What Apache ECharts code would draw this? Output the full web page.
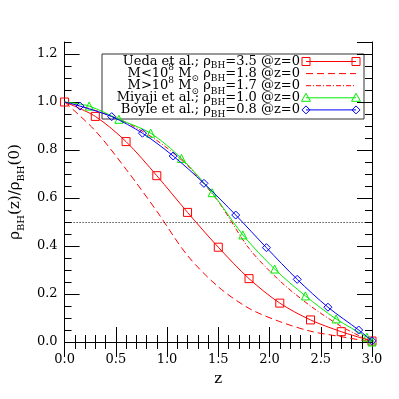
<!DOCTYPE html>
<html>
<head>
<meta charset="utf-8">
<script src="https://cdn.jsdelivr.net/npm/echarts@6/dist/echarts.min.js"></script>
<style>
html,body{margin:0;padding:0;background:#fff}
#chart{width:399px;height:399px}
</style>
</head>
<body>
<div id="chart"></div>
<script>
// values
const uedaX = [0, 0.3, 0.6, 0.9, 1.2, 1.5, 1.8, 2.1, 2.4, 2.7, 3.0];
const uedaY = [1.0, 0.94, 0.835, 0.693, 0.54, 0.395, 0.264, 0.162, 0.092, 0.043, 0.004];
const lowMX = [0, 0.3, 0.6, 0.9, 1.2, 1.5, 1.8, 2.1, 2.4, 2.7, 3.0];
const lowMY = [1.0, 0.88, 0.72, 0.545, 0.36, 0.23, 0.14, 0.085, 0.045, 0.022, 0.0];
const highMX = [0, 0.3, 0.6, 0.9, 1.2, 1.5, 1.8, 2.1, 2.4, 2.7, 3.0];
const highMY = [1.0, 0.965, 0.915, 0.84, 0.735, 0.585, 0.39, 0.255, 0.15, 0.065, 0.0];
const miyajiX = [0, 0.24, 0.53, 0.84, 1.14, 1.44, 1.74, 2.05, 2.35, 2.65, 2.95, 3.0];
const miyajiY = [1.0, 0.983, 0.928, 0.87, 0.765, 0.622, 0.446, 0.304, 0.192, 0.096, 0.02, 0.0];
const boyleX = [0, 0.15, 0.46, 0.76, 1.06, 1.36, 1.67, 1.97, 2.27, 2.57, 2.87, 3.0];
const boyleY = [1.0, 0.983, 0.939, 0.87, 0.775, 0.661, 0.529, 0.393, 0.261, 0.145, 0.05, 0.005];
const halfLevel = 0.5;

const legendTexts = [
    '{m|Ueda et al.; ρ}{s|BH}{m|=3.5 @z=0}',
    '{m|M<10}{p|8}{m| M}{s|⊙}{m| ρ}{s|BH}{m|=1.8 @z=0}',
    '{m|M>10}{p|8}{m| M}{s|⊙}{m| ρ}{s|BH}{m|=1.7 @z=0}',
    '{m|Miyaji et al.; ρ}{s|BH}{m|=1.0 @z=0}',
    '{m|Boyle et al.; ρ}{s|BH}{m|=0.8 @z=0}'
];

const font = 'DejaVu Serif';
const red = '#ff0000', green = '#00ee00', blue = '#0000ff';

const zip = (xs, ys) => xs.map((x, i) => [x, ys[i]]);
const noStartSymbol = (pts) => pts.map((p, i) => i === 0 ? {value: p, symbol: 'none'} : p);

const chart = echarts.init(document.getElementById('chart'));

const richText = {
    m: {fontFamily: font, fontSize: 13, lineHeight: 13, verticalAlign: 'middle', color: '#000'},
    s: {fontFamily: font, fontSize: 9, lineHeight: 18, verticalAlign: 'bottom', color: '#000'},
    p: {fontFamily: font, fontSize: 9, lineHeight: 20, verticalAlign: 'top', color: '#000'}
};

// hand drawn legend box, like the IDL one
const legendItems = [];
const rowY = (i) => 61.5 + i * 12.1;
legendTexts.forEach((t, i) => {
    legendItems.push({
        type: 'text', x: 300, y: rowY(i),
        style: {text: t, rich: richText, align: 'right', verticalAlign: 'middle'}
    });
});
const lx0 = 306, lx1 = 356;
const lineEl = (i, color, dash) => ({
    type: 'line', shape: {x1: lx0, y1: rowY(i), x2: lx1, y2: rowY(i)},
    style: {stroke: color, lineWidth: 1, lineDash: dash || null}
});
const sq = (x, y, c) => ({type: 'rect', shape: {x: x - 4, y: y - 4, width: 8, height: 8}, style: {fill: null, stroke: c, lineWidth: 1}});
const tri = (x, y, c) => ({type: 'polygon', shape: {points: [[x, y - 4.5], [x + 4.5, y + 3.5], [x - 4.5, y + 3.5]]}, style: {fill: null, stroke: c, lineWidth: 1}});
const dia = (x, y, c) => ({type: 'polygon', shape: {points: [[x, y - 4], [x + 4, y], [x, y + 4], [x - 4, y]]}, style: {fill: null, stroke: c, lineWidth: 1}});
legendItems.push(lineEl(0, red), sq(lx0, rowY(0), red), sq(lx1, rowY(0), red));
legendItems.push(lineEl(1, red, [7, 4]));
legendItems.push(lineEl(2, red, [5, 2, 1, 2]));
legendItems.push(lineEl(3, green), tri(lx0, rowY(3), green), tri(lx1, rowY(3), green));
legendItems.push(lineEl(4, blue), dia(lx0, rowY(4), blue), dia(lx1, rowY(4), blue));
legendItems.push({
    type: 'rect', shape: {x: 102, y: 54, width: 262, height: 65},
    style: {fill: null, stroke: '#333', lineWidth: 1}
});

const axisBlack = {lineStyle: {color: '#000', width: 1}};
const mkX = (pos, labels) => ({
    type: 'value', position: pos, min: 0, max: 3, interval: 0.5,
    axisLine: axisBlack,
    axisTick: {inside: true, length: 15, lineStyle: {color: '#000'}},
    minorTick: {show: true, splitNumber: 5, length: 7, lineStyle: {color: '#000'}},
    splitLine: {show: false}, minorSplitLine: {show: false},
    axisLabel: {show: labels, margin: 11, fontFamily: font, fontSize: 13, color: '#000',
        formatter: v => v.toFixed(1)},
    name: labels ? 'z' : '', nameLocation: 'middle', nameGap: 30,
    nameTextStyle: {fontFamily: font, fontSize: 15, color: '#000'}
});
const mkYMajor = (pos, labels) => ({
    type: 'value', position: pos, min: 0, max: 1.25, interval: 0.2,
    axisLine: axisBlack,
    axisTick: {inside: true, length: 15, lineStyle: {color: '#000'}},
    splitLine: {show: false},
    axisLabel: {show: labels, showMaxLabel: false, margin: 7, fontFamily: font, fontSize: 13, color: '#000',
        formatter: v => v.toFixed(1)},
    name: labels ? '{m|ρ}{s|BH}{m|(z)/ρ}{s|BH}{m|(0)}' : '',
    nameLocation: 'middle', nameGap: 36, nameRotate: 90,
    nameTextStyle: {rich: {
        m: {fontFamily: font, fontSize: 15, lineHeight: 15, verticalAlign: 'middle', color: '#000'},
        s: {fontFamily: font, fontSize: 10, lineHeight: 21, verticalAlign: 'bottom', color: '#000'}
    }}
});
const mkYMinor = (pos) => ({
    type: 'value', position: pos, min: 0, max: 1.25, interval: 0.05,
    axisLine: {show: false},
    axisTick: {inside: true, length: 7, lineStyle: {color: '#000'}},
    splitLine: {show: false},
    axisLabel: {show: false}
});

const option = {
    animation: false,
    backgroundColor: '#fff',
    grid: {left: 62, right: 27, top: 42, bottom: 57},
    xAxis: [mkX('bottom', true), mkX('top', false)],
    yAxis: [mkYMajor('left', true), mkYMinor('left'), mkYMajor('right', false), mkYMinor('right')],
    graphic: legendItems,
    series: [
        {
            name: 'Ueda', type: 'line', data: zip(uedaX, uedaY), smooth: 0.3,
            symbol: 'rect', symbolSize: 8, z: 5,
            lineStyle: {color: red, width: 1},
            itemStyle: {color: 'rgba(0,0,0,0)', borderColor: red, borderWidth: 1}
        },
        {
            name: 'lowM', type: 'line', data: zip(lowMX, lowMY), smooth: 0.3, symbol: 'none',
            lineStyle: {color: red, width: 1, type: [7, 4]},
            markLine: {
                silent: true, symbol: ['none', 'none'], label: {show: false},
                lineStyle: {color: '#000', width: 1, type: [1, 2]},
                data: [{yAxis: halfLevel}]
            }
        },
        {
            name: 'highM', type: 'line', data: zip(highMX, highMY), smooth: 0.3, symbol: 'none',
            lineStyle: {color: red, width: 1, type: [5, 2, 1, 2]}
        },
        {
            name: 'Miyaji', type: 'line', data: noStartSymbol(zip(miyajiX, miyajiY)), smooth: 0.3,
            symbol: 'triangle', symbolSize: 8, z: 6,
            lineStyle: {color: green, width: 1},
            itemStyle: {color: 'rgba(0,0,0,0)', borderColor: green, borderWidth: 1}
        },
        {
            name: 'Boyle', type: 'line', data: noStartSymbol(zip(boyleX, boyleY)), smooth: 0.3,
            symbol: 'diamond', symbolSize: 8, z: 7,
            lineStyle: {color: blue, width: 1},
            itemStyle: {color: 'rgba(0,0,0,0)', borderColor: blue, borderWidth: 1}
        }
    ]
};
chart.setOption(option);
</script>
</body>
</html>
